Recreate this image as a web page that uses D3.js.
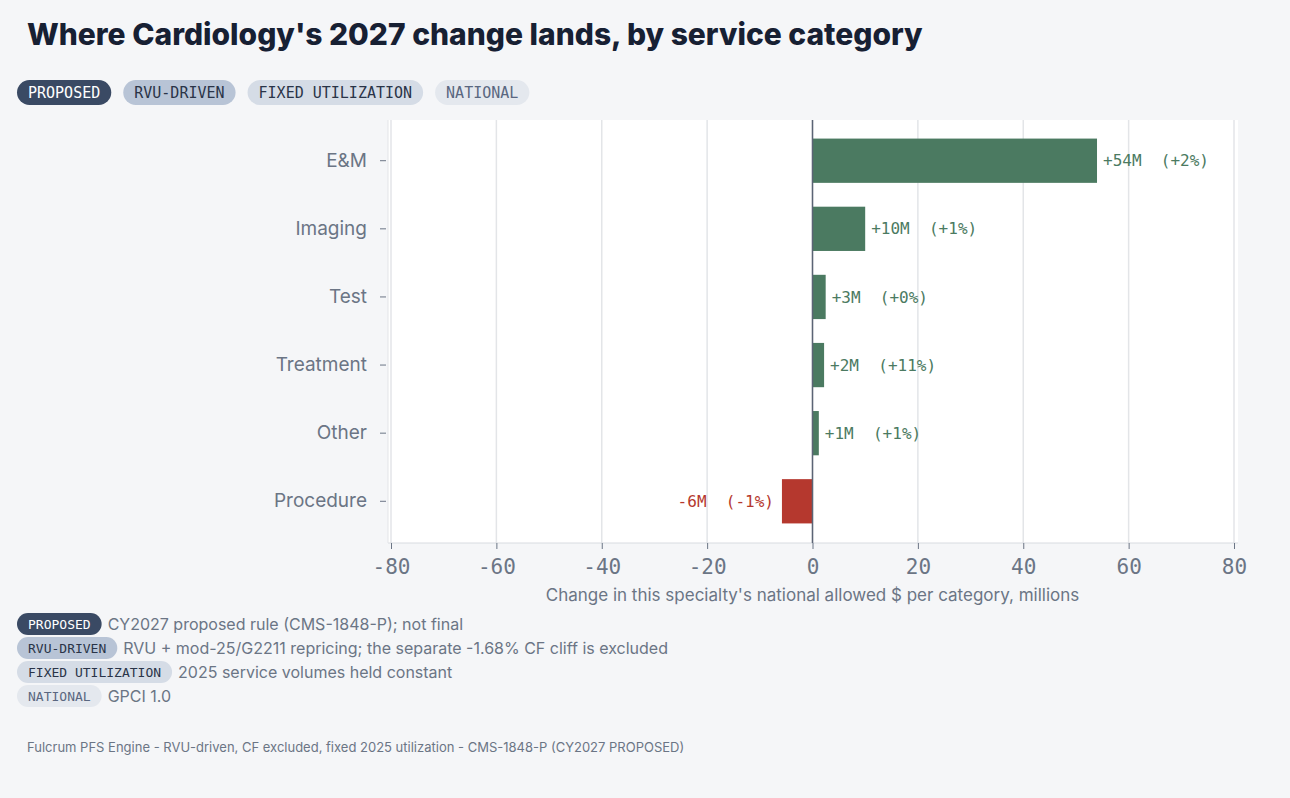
<!DOCTYPE html><html><head><meta charset="utf-8">
<script src="https://cdn.jsdelivr.net/npm/d3@7"></script>
<style>body{margin:0;background:#f5f6f8;}svg{display:block}</style></head><body>
<script>
const categories=["E&M","Imaging","Test","Treatment","Other","Procedure"];
const values=[54,10,2.5,2.2,1.2,-5.8];
const labels=["+54M  (+2%)","+10M  (+1%)","+3M  (+0%)","+2M  (+11%)","+1M  (+1%)","-6M  (-1%)"];
const ticks=[-80,-60,-40,-20,0,20,40,60,80];
const badges=[["PROPOSED","#3a4a64","#ffffff"],["RVU-DRIVEN","#b8c4d6","#2a3448"],["FIXED UTILIZATION","#d5dce6","#2a3448"],["NATIONAL","#e4e8ee","#5a6780"]];
const notes=["CY2027 proposed rule (CMS-1848-P); not final","RVU + mod-25/G2211 repricing; the separate -1.68% CF cliff is excluded","2025 service volumes held constant","GPCI 1.0"];
const W=1290,H=798,mono="'DejaVu Sans Mono',monospace",sans="Inter,'Noto Sans',sans-serif";
const svg=d3.select("body").append("svg").attr("width",W).attr("height",H);
svg.append("rect").attr("width",W).attr("height",H).attr("fill","#f5f6f8");
svg.append("text").attr("x",27).attr("y",45).attr("font-family",sans).attr("font-weight",800).attr("font-size",30).attr("fill","#172033").text("Where Cardiology's 2027 change lands, by service category");
function badge(x,y,b,fs,h){const g=svg.append("g");const t=g.append("text").attr("x",x+11).attr("y",y+h/2).attr("dy","0.35em").attr("font-family",mono).attr("font-size",fs).attr("fill",b[2]).text(b[0]);const w=t.node().getComputedTextLength()+22;g.insert("rect","text").attr("x",x).attr("y",y).attr("width",w).attr("height",h).attr("rx",h/2).attr("fill",b[1]);return w;}
let bx=17;badges.forEach(b=>{bx+=badge(bx,80,b,15,25)+12;});
const x=d3.scaleLinear().domain([-80,80]).range([391,1234]);
const y=d3.scaleBand().domain(categories).range([127,535]).paddingInner(0.35).paddingOuter(0.17);
svg.append("rect").attr("x",388).attr("y",120).attr("width",850).attr("height",423).attr("fill","#fff");
ticks.forEach(t=>svg.append("line").attr("x1",x(t)).attr("x2",x(t)).attr("y1",120).attr("y2",543).attr("stroke","#e3e5e8").attr("stroke-width",1.5));
svg.append("line").attr("x1",388).attr("x2",1238).attr("y1",543).attr("y2",543).attr("stroke","#d8dbe0");
svg.append("line").attr("x1",388).attr("x2",388).attr("y1",120).attr("y2",543).attr("stroke","#e3e5e8");
const xa=svg.append("g").attr("transform","translate(0,543)").call(d3.axisBottom(x).tickValues(ticks).tickSize(6).tickFormat(d=>d<0?"-"+Math.abs(d):d));
xa.select(".domain").remove();xa.selectAll("line").attr("stroke","#6b7585");
xa.selectAll("text").attr("font-family",mono).attr("font-size",21).attr("fill","#6b7585").attr("dy","1.05em");
const ya=svg.append("g").attr("transform","translate(386,0)").call(d3.axisLeft(y).tickSize(6).tickPadding(13));
ya.select(".domain").remove();ya.selectAll("line").attr("stroke","#6b7585");
ya.selectAll("text").attr("font-family",sans).attr("font-size",19).attr("fill","#6b7585");
categories.forEach((c,i)=>{const v=values[i],col=v<0?"#b5382e":"#4b7a61";
svg.append("rect").attr("x",x(Math.min(0,v))).attr("y",y(c)).attr("width",Math.abs(x(v)-x(0))).attr("height",y.bandwidth()).attr("fill",col);
svg.append("text").attr("x",v<0?x(v)-8:x(v)+6).attr("y",y(c)+y.bandwidth()/2).attr("dy","0.35em").attr("text-anchor",v<0?"end":"start").attr("font-family",mono).attr("font-size",16).attr("fill",col).attr("xml:space","preserve").style("white-space","pre").text(labels[i]);});
svg.append("line").attr("x1",x(0)).attr("x2",x(0)).attr("y1",120).attr("y2",543).attr("stroke","#5b6475").attr("stroke-width",1.5);
svg.append("text").attr("x",x(0)).attr("y",601).attr("text-anchor","middle").attr("font-family",sans).attr("font-size",17).attr("fill","#6b7585").text("Change in this specialty's national allowed $ per category, millions");
badges.forEach((b,i)=>{const yy=613+i*24;const w=badge(17,yy,b,13,22);svg.append("text").attr("x",17+w+6).attr("y",yy+11).attr("dy","0.35em").attr("font-family",sans).attr("font-size",16).attr("fill","#6b7585").text(notes[i]);});
svg.append("text").attr("x",27).attr("y",752).attr("font-family",sans).attr("font-size",13).attr("fill","#6b7585").text("Fulcrum PFS Engine - RVU-driven, CF excluded, fixed 2025 utilization - CMS-1848-P (CY2027 PROPOSED)");
</script></body></html>
